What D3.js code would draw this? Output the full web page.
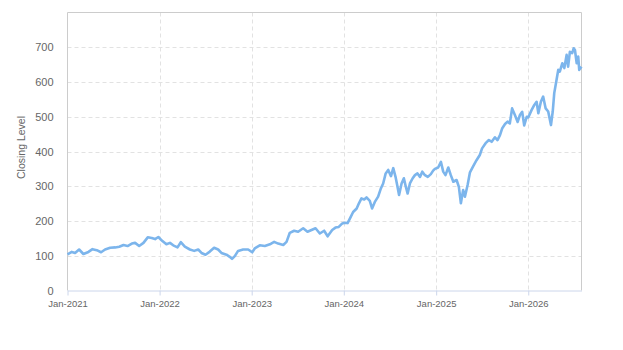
<!DOCTYPE html>
<html>
<head>
<meta charset="utf-8">
<script src="https://cdn.jsdelivr.net/npm/d3@7"></script>
<style>
  html, body { margin: 0; padding: 0; background: #fff; }
  svg { display: block; font-family: "Liberation Sans", Arial, sans-serif; }
</style>
</head>
<body>
<svg id="chart" width="623" height="350"></svg>
<script>
const dates = [
  "2021-01-01","2021-01-18","2021-01-31","2021-02-16","2021-03-05","2021-03-25","2021-04-10","2021-04-27",
  "2021-05-14","2021-05-30","2021-06-19","2021-07-09","2021-07-25","2021-08-11","2021-08-27","2021-09-13",
  "2021-09-26","2021-10-12","2021-10-29","2021-11-15","2021-12-01","2021-12-14","2021-12-27","2022-01-11",
  "2022-01-28","2022-02-11","2022-02-24","2022-03-13","2022-03-26","2022-04-11","2022-05-01","2022-05-18",
  "2022-06-03","2022-06-16","2022-07-02","2022-07-19","2022-08-05","2022-08-21","2022-09-03","2022-09-23",
  "2022-10-06","2022-10-15","2022-10-26","2022-11-08","2022-11-28","2022-12-18","2023-01-03","2023-01-13",
  "2023-02-02","2023-02-22","2023-03-14","2023-03-31","2023-04-16","2023-05-06","2023-05-19","2023-06-01",
  "2023-06-18","2023-07-04","2023-07-24","2023-08-10","2023-08-26","2023-09-11","2023-09-28","2023-10-15",
  "2023-10-29","2023-11-16","2023-11-29","2023-12-12","2023-12-26","2024-01-05","2024-01-16","2024-01-25",
  "2024-02-07","2024-02-21","2024-03-01","2024-03-11","2024-03-22","2024-03-31","2024-04-13","2024-04-22",
  "2024-05-03","2024-05-16","2024-05-27","2024-06-05","2024-06-15","2024-06-25","2024-07-06","2024-07-15",
  "2024-07-24","2024-08-01","2024-08-07","2024-08-17","2024-08-26","2024-09-03","2024-09-10","2024-09-19",
  "2024-09-30","2024-10-09","2024-10-19","2024-10-29","2024-11-07","2024-11-16","2024-11-29","2024-12-11",
  "2024-12-20","2024-12-27","2025-01-09","2025-01-20","2025-01-29","2025-02-07","2025-02-18","2025-02-28",
  "2025-03-10","2025-03-23","2025-04-01","2025-04-09","2025-04-18","2025-04-25","2025-05-06","2025-05-15",
  "2025-05-28","2025-06-10","2025-06-23","2025-07-02","2025-07-16","2025-07-29","2025-08-09","2025-08-22",
  "2025-09-01","2025-09-11","2025-09-20","2025-10-01","2025-10-11","2025-10-20","2025-10-29","2025-11-09",
  "2025-11-20","2025-11-29","2025-12-08","2025-12-16","2025-12-26","2026-01-01","2026-01-14","2026-01-25",
  "2026-02-03","2026-02-10","2026-02-20","2026-03-01","2026-03-11","2026-03-21","2026-04-01","2026-04-08",
  "2026-04-14","2026-04-23","2026-04-30","2026-05-06","2026-05-16","2026-05-24","2026-06-02","2026-06-08",
  "2026-06-15","2026-06-24","2026-06-30","2026-07-05","2026-07-12","2026-07-18","2026-07-22","2026-07-31"
];
const closes = [
  104,111,108,118,105,111,119,116,
  110,118,123,124,126,131,128,135,
  137,128,137,153,151,148,154,143,
  133,137,130,124,139,126,118,114,
  118,108,103,112,123,118,108,103,
  97,91,99,114,118,118,110,121,
  130,128,133,140,135,131,140,166,
  172,169,179,169,174,179,164,172,
  156,174,181,183,193,195,194,207,
  226,236,251,265,262,268,258,236,
  255,270,294,308,337,347,329,352,
  327,298,275,308,323,298,279,308,
  323,332,337,327,342,333,327,335,
  345,350,354,370,342,332,354,332,
  313,318,298,251,289,270,305,340,
  358,375,390,409,424,433,428,441,
  433,447,467,479,486,481,524,505,
  485,505,514,475,500,498,519,534,
  543,510,543,558,524,515,476,515,
  568,606,635,630,654,640,678,644,
  687,683,697,692,654,673,635,644
];
const yTicks = [0, 100, 200, 300, 400, 500, 600, 700];
const xTickDates = ["2021-01-01","2022-01-01","2023-01-01","2024-01-01","2025-01-01","2026-01-01"];
const yTitle = "Closing Level";

const parse = d3.timeParse("%Y-%m-%d");
const data = dates.map((d, i) => ({ date: parse(d), value: closes[i] }));

const svg = d3.select("#chart");
const pLeft = 67.5, pRight = 581.5, pTop = 12.5, pBottom = 290.5;

const x = d3.scaleTime()
  .domain([parse("2021-01-01"), parse("2026-07-31")])
  .range([pLeft, pRight]);
const y = d3.scaleLinear().domain([0, 800]).range([pBottom, pTop]);

// horizontal grid
svg.append("g").selectAll("line").data(yTicks.filter(t => t > 0)).join("line")
  .attr("x1", pLeft).attr("x2", pRight)
  .attr("y1", d => Math.round(y(d)) + 0.5).attr("y2", d => Math.round(y(d)) + 0.5)
  .attr("stroke", "#e2e2e2").attr("stroke-dasharray", "4,3").attr("stroke-width", 1);

// vertical grid
const xt = xTickDates.map(parse);
svg.append("g").selectAll("line").data(xt.slice(1)).join("line")
  .attr("x1", d => Math.round(x(d)) + 0.5).attr("x2", d => Math.round(x(d)) + 0.5)
  .attr("y1", pTop).attr("y2", pBottom)
  .attr("stroke", "#e2e2e2").attr("stroke-dasharray", "4,3").attr("stroke-width", 1);

// plot border (top, right, left)
svg.append("path")
  .attr("d", `M${pLeft},${pBottom}V${pTop}H${pRight}V${pBottom}`)
  .attr("fill", "none").attr("stroke", "#cccccc").attr("stroke-width", 1);

// x axis
const xAxis = d3.axisBottom(x).tickValues(xt).tickFormat(d3.timeFormat("%b-%Y")).tickSize(5).tickSizeOuter(0);
const gx = svg.append("g").attr("transform", `translate(0,${pBottom})`).call(xAxis);
gx.select(".domain").attr("stroke", "#ccd6eb");
gx.selectAll(".tick line").attr("stroke", "#ccd6eb");
gx.selectAll(".tick text").attr("fill", "#666666").attr("font-size", "9.5px")
  .attr("font-family", "Liberation Sans, Arial, sans-serif").attr("dy", "0.9em");

// y axis labels
const yAxis = d3.axisLeft(y).tickValues(yTicks).tickSize(0).tickPadding(14);
const gy = svg.append("g").attr("transform", `translate(${pLeft},0)`).call(yAxis);
gy.select(".domain").remove();
gy.selectAll(".tick text").attr("fill", "#666666").attr("font-size", "11px")
  .attr("font-family", "Liberation Sans, Arial, sans-serif");

// y title
svg.append("text")
  .attr("transform", `translate(25,${(pTop + pBottom) / 2 - 4}) rotate(-90)`)
  .attr("text-anchor", "middle")
  .attr("fill", "#666666").attr("font-size", "10.5px")
  .text(yTitle);

// line
const line = d3.line().x(d => x(d.date)).y(d => y(d.value));
svg.append("path").datum(data)
  .attr("d", line)
  .attr("fill", "none").attr("stroke", "#7cb5ec").attr("stroke-width", 2.6)
  .attr("stroke-linejoin", "round");
</script>
</body>
</html>
